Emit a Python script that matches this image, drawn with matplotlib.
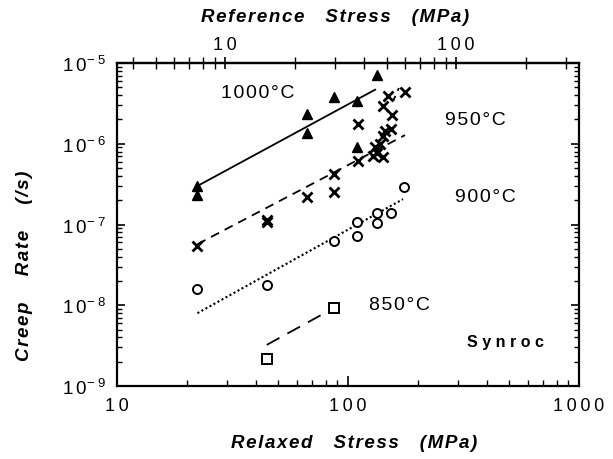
import math
import matplotlib
matplotlib.use("Agg")
import matplotlib.pyplot as plt
from matplotlib.ticker import LogLocator, FixedLocator, NullFormatter, FuncFormatter

plt.rcParams['font.family'] = ['Liberation Sans', 'DejaVu Sans']
plt.rcParams['mathtext.fontset'] = 'custom'
plt.rcParams['mathtext.rm'] = 'Liberation Sans'

# ---- data ----
t1000_x = [22.3, 22.3, 66.3, 66.3, 87.0, 109.3, 109.3, 133.0]
t1000_y = [3.0e-7, 2.3e-7, 2.33e-6, 1.36e-6, 3.76e-6, 3.38e-6, 9.0e-7, 7.1e-6]

t950_x = [22.3, 44.5, 44.5, 66.3, 87.0, 87.0, 110.2, 110.2, 149.3, 176.6, 142.2,
          154.5, 144.6, 153.5, 142.2, 137.6, 131.0, 133.0, 142.2, 128.7]
t950_y = [5.36e-8, 1.15e-7, 1.08e-7, 2.19e-7, 4.21e-7, 2.52e-7, 1.75e-6, 6.16e-7,
          3.94e-6, 4.33e-6, 2.96e-6, 2.29e-6, 1.45e-6, 1.52e-6, 1.26e-6, 9.9e-7,
          9.0e-7, 7.6e-7, 6.78e-7, 7.1e-7]

t900_x = [22.3, 44.5, 87.0, 109.5, 109.5, 133.0, 133.0, 153.0, 174.7]
t900_y = [1.58e-8, 1.79e-8, 6.28e-8, 1.08e-7, 7.24e-8, 1.38e-7, 1.03e-7, 1.38e-7, 2.88e-7]

t850_x = [44.5, 87.0]
t850_y = [2.19e-9, 9.2e-9]

fit1000_x = [22.3, 131.0]
fit1000_y = [3.0e-7, 4.67e-6]
fit950_x = [22.3, 176.6]
fit950_y = [5.71e-8, 1.28e-6]
fit950b_x = [157.0, 166.0]
fit950b_y = [3.4e-6, 4.9e-6]
fit900_x = [22.3, 173.0]
fit900_y = [7.98e-9, 2.06e-7]
fit850_x = [44.5, 83.6]
fit850_y = [3.23e-9, 8.7e-9]

ref_factor = 2.94  # relaxed stress / reference stress

HS = '\u200a'

def spaced(s, sep='\u2009'):
    return sep.join(list(s))

fig = plt.figure(figsize=(6.13, 4.6), dpi=100)
ax = fig.add_axes([117/613, 1-387/460, (579-117)/613, (387-64)/460])

ax.set_xscale('log')
ax.set_yscale('log')
ax.set_xlim(10, 1000)
ax.set_ylim(1e-9, 1e-5)

# lines
ax.plot(fit1000_x, fit1000_y, '-', color='black', lw=1.3)
ax.plot(fit950_x, fit950_y, color='black', lw=1.3, dashes=(5, 3.5))
ax.plot(fit950b_x, fit950b_y, color='black', lw=1.3, dashes=(3, 3))
ax.plot(fit900_x, fit900_y, color='black', lw=1.5, dashes=(1, 1.2))
ax.plot(fit850_x, fit850_y, color='black', lw=1.3, dashes=(8, 5))

# markers
ax.plot(t1000_x, t1000_y, '^', color='black', ms=7.5, ls='none')
ax.plot(t950_x, t950_y, 'x', color='black', ms=7.5, mew=2.0, ls='none')
ax.plot(t900_x, t900_y, 'o', mfc='white', mec='black', ms=6.5, mew=1.4, ls='none')
ax.plot(t850_x, t850_y, 's', mfc='white', mec='black', ms=6.5, mew=1.4, ls='none')

for s in ax.spines.values():
    s.set_linewidth(1.6)

# bottom ticks
ax.xaxis.set_major_locator(FixedLocator([10, 100, 1000]))
ax.xaxis.set_minor_locator(LogLocator(base=10, subs=range(2, 10)))
ax.xaxis.set_minor_formatter(NullFormatter())
ax.xaxis.set_major_formatter(FuncFormatter(lambda v, p: spaced('%d' % round(v))))
ax.tick_params(axis='x', which='major', direction='in', length=7, width=1.2,
               labelsize=13, pad=8, top=False)
ax.tick_params(axis='x', which='minor', direction='in', length=4, width=1.0, top=False)

# y ticks
ax.yaxis.set_major_locator(FixedLocator([1e-9, 1e-8, 1e-7, 1e-6, 1e-5]))
ax.yaxis.set_minor_locator(LogLocator(base=10, subs=range(2, 10)))
ax.yaxis.set_minor_formatter(NullFormatter())

def yfmt(v, p):
    e = int(round(math.log10(v)))
    return r'$\mathregular{1\,0^{-\;%d}}$' % (-e)

ax.yaxis.set_major_formatter(FuncFormatter(yfmt))
ax.tick_params(axis='y', which='major', direction='in', length=6, width=1.2,
               labelsize=13.5, pad=8, right=True)
ax.tick_params(axis='y', which='minor', direction='in', length=3.5, width=1.0, right=True)

# top axis
sec = ax.secondary_xaxis('top', functions=(lambda x: x / ref_factor, lambda x: x * ref_factor))
sec.xaxis.set_major_locator(FixedLocator([10, 100]))
sec.xaxis.set_minor_locator(LogLocator(base=10, subs=range(2, 10)))
sec.xaxis.set_minor_formatter(NullFormatter())
sec.xaxis.set_major_formatter(FuncFormatter(lambda v, p: spaced('%d' % round(v))))
sec.tick_params(axis='x', which='major', direction='inout', length=9, width=1.2,
                labelsize=13, pad=3)
sec.tick_params(axis='x', which='minor', direction='inout', length=9, width=1.0)
sec.spines['top'].set_linewidth(1.6)

# axis labels
lab_kw = dict(ha='center', va='center', fontsize=13.5, fontweight='bold', fontstyle='italic')
gap = '    '
fig.text(335/613, 1-17/460, spaced('Reference', HS) + gap + spaced('Stress', HS)
         + gap + spaced('(MPa)', HS), **lab_kw)
fig.text(354/613, 1-444/460, spaced('Relaxed', HS) + gap + spaced('Stress', HS)
         + gap + spaced('(MPa)', HS), **lab_kw)
fig.text(25/613, 1-266/460, spaced('Creep', HS) + '     ' + spaced('Rate', HS)
         + '     ' + spaced('(/s)', HS), rotation=90, **lab_kw)

# annotations
ann_kw = dict(ha='center', va='center', fontsize=14)
fig.text(258/613, 1-93/460, spaced('1000°C', HS), **ann_kw)
fig.text(475/613, 1-121/460, spaced('950°C', HS), **ann_kw)
fig.text(485/613, 1-197/460, spaced('900°C', HS), **ann_kw)
fig.text(399/613, 1-306/460, spaced('850°C', HS), **ann_kw)
fig.text(505/613, 1-343/460, 'S y n r o c', ha='center', va='center', fontsize=11.5,
         fontweight='bold')

fig.savefig('out.png', dpi=100)
